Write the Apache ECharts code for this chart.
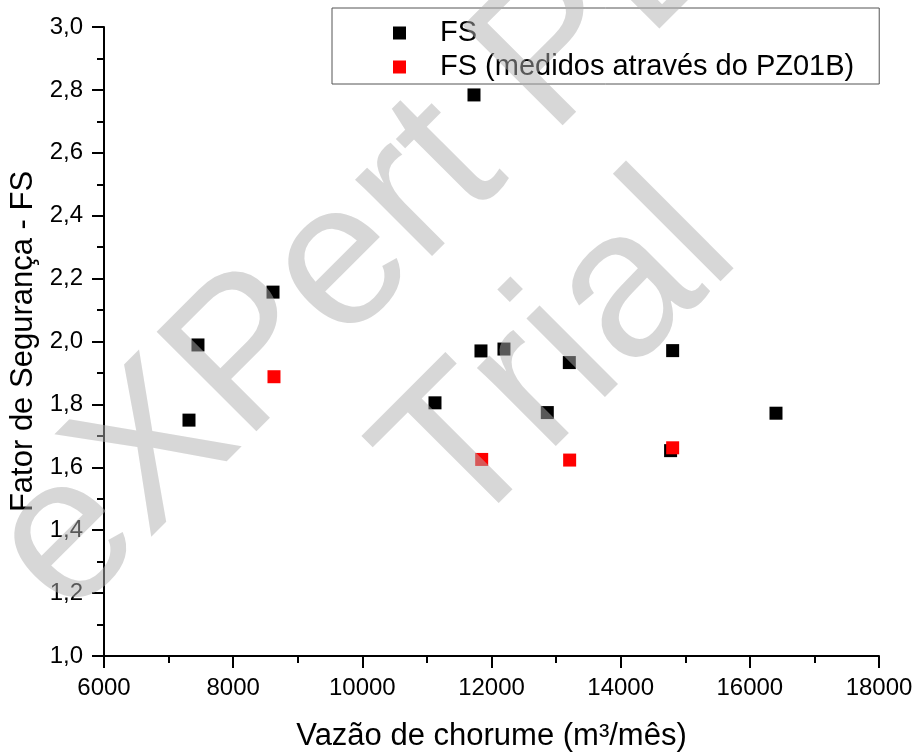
<!DOCTYPE html>
<html>
<head>
<meta charset="utf-8">
<script src="https://cdn.jsdelivr.net/npm/echarts@6/dist/echarts.min.js"></script>
<style>
  html, body { margin: 0; padding: 0; background: #fff; }
  #chart { width: 918px; height: 753px; }
</style>
</head>
<body>
<div id="chart"></div>
<script>
// Vazão de chorume (m³/mês) vs. fator de segurança
const fsFlow = [7316, 7455, 8617, 11729, 11837, 12193, 11125, 12864, 13205, 14805, 14773, 16405];
const fsValue = [1.750, 1.989, 2.157, 2.784, 1.970, 1.976, 1.805, 1.774, 1.933, 1.971, 1.653, 1.772];
const pzFlow = [8632, 11848, 13210, 14805];
const pzValue = [1.888, 1.625, 1.623, 1.662];

const seriesNames = ['FS', 'FS (medidos através do PZ01B)'];
const xTitle = 'Vazão de chorume (m³/mês)';
const yTitle = 'Fator de Segurança - FS';
const watermark = ['eXPert PDF', 'Trial'];

const pairs = (xs, ys) => xs.map((x, i) => [x, ys[i]]);
const font = 'Arial, "Liberation Sans", sans-serif';
const stampFill = 'rgba(175,175,175,0.5)';

const chart = echarts.init(document.getElementById('chart'));
chart.setOption({
  animation: false,
  backgroundColor: '#fff',
  grid: { left: 104, right: 39, top: 27, bottom: 97, outerBoundsMode: 'none', containLabel: false },
  legend: {
    orient: 'vertical',
    left: 332,
    top: 8,
    padding: [10, 25, 2, 61],
    itemGap: 4,
    itemWidth: 13,
    itemHeight: 13,
    icon: 'rect',
    borderColor: '#555',
    borderWidth: 1,
    backgroundColor: '#fff',
    textStyle: {
      fontFamily: font, fontSize: 29, color: '#000',
      lineHeight: 30, padding: [0, 0, 0, 29]
    },
    data: seriesNames
  },
  xAxis: {
    type: 'value',
    min: 6000, max: 18000, interval: 2000,
    name: xTitle,
    nameLocation: 'middle',
    nameGap: 65,
    nameTextStyle: { fontFamily: font, fontSize: 31, color: '#000' },
    axisLine: { lineStyle: { color: '#000', width: 2 } },
    axisTick: { inside: false, length: 12, lineStyle: { color: '#000', width: 2 } },
    minorTick: { show: true, splitNumber: 2, length: 7, lineStyle: { color: '#000', width: 2 } },
    axisLabel: {
      fontFamily: font, fontSize: 24, color: '#000', margin: 20,
      formatter: v => String(v)
    },
    splitLine: { show: false }
  },
  yAxis: {
    type: 'value',
    min: 1.0, max: 3.0, interval: 0.2,
    name: yTitle,
    nameLocation: 'middle',
    nameGap: 61,
    nameTextStyle: { fontFamily: font, fontSize: 31, color: '#000' },
    axisLine: { show: true, lineStyle: { color: '#000', width: 2 } },
    axisTick: { show: true, inside: false, length: 12, lineStyle: { color: '#000', width: 2 } },
    minorTick: { show: true, splitNumber: 2, length: 7, lineStyle: { color: '#000', width: 2 } },
    axisLabel: {
      fontFamily: font, fontSize: 24, color: '#000', margin: 21,
      formatter: v => v.toFixed(1).replace('.', ',')
    },
    splitLine: { show: false }
  },
  series: [
    {
      name: seriesNames[0],
      type: 'scatter',
      symbol: 'rect',
      symbolSize: 13,
      itemStyle: { color: '#000', opacity: 1 },
      data: pairs(fsFlow, fsValue),
      z: 2
    },
    {
      name: seriesNames[1],
      type: 'scatter',
      symbol: 'rect',
      symbolSize: 13,
      itemStyle: { color: '#ff0000', opacity: 1 },
      data: pairs(pzFlow, pzValue),
      z: 3
    }
  ],
  graphic: [
    {
      type: 'text',
      z: 100,
      x: 414, y: 194,
      rotation: Math.PI / 4,
      silent: true,
      style: {
        text: watermark[0],
        font: '205px ' + font,
        fill: stampFill,
        align: 'center',
        verticalAlign: 'middle'
      }
    },
    {
      type: 'text',
      z: 100,
      x: 561, y: 359,
      rotation: Math.PI / 4,
      silent: true,
      style: {
        text: watermark[1],
        font: '210px ' + font,
        fill: stampFill,
        align: 'center',
        verticalAlign: 'middle'
      }
    }
  ]
});
</script>
</body>
</html>
